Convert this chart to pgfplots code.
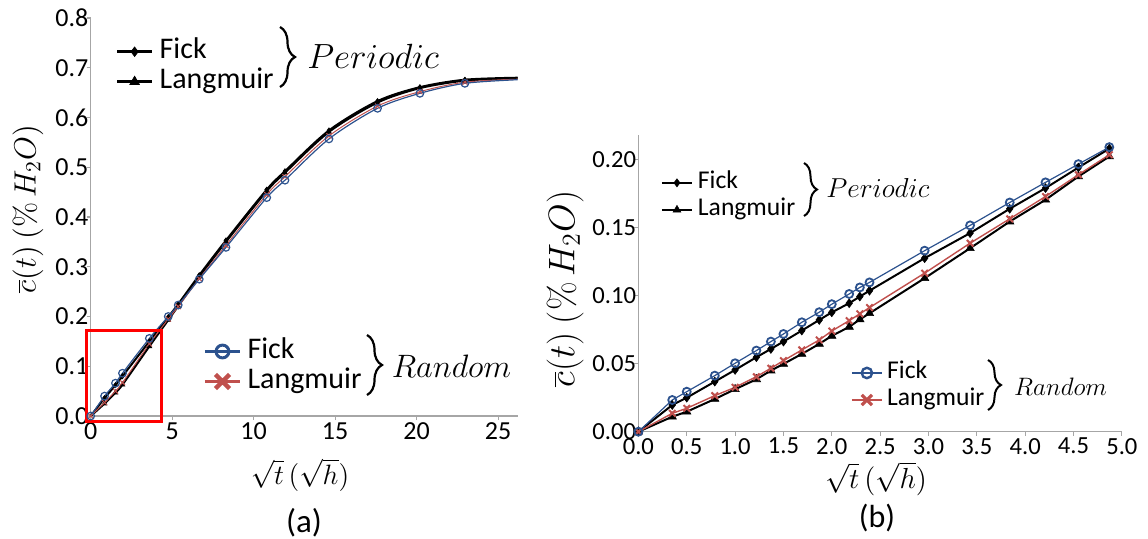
\documentclass[border=0pt]{standalone}
\usepackage{fix-cm}
\usepackage[no-math]{fontspec}
\setmainfont{Carlito}
\usepackage{pgfplots}
\usepackage{pgfplotstable}
\pgfplotsset{compat=1.18}
\usetikzlibrary{decorations.pathreplacing}
\definecolor{fblue}{RGB}{44,82,142}
\definecolor{lred}{RGB}{192,80,77}

\pgfplotstableread{
x fr lr fp lp
0 0 0 0 0
0.85 0.040 0.027 0.036 0.025
1.52 0.066 0.050 0.062 0.047
1.95 0.086 0.067 0.080 0.063
3.60 0.156 0.145 0.150 0.140
4.76 0.200 0.195 0.199 0.193
5.37 0.223 0.220 0.225 0.221
6.66 0.275 0.276 0.283 0.280
8.30 0.339 0.343 0.353 0.350
10.80 0.439 0.445 0.455 0.452
11.92 0.474 0.481 0.492 0.489
14.62 0.557 0.563 0.574 0.571
17.60 0.6185 0.623 0.633 0.630
20.20 0.6486 0.652 0.661 0.659
22.96 0.6687 0.671 0.676 0.674
26.20 0.676 0.677 0.680 0.679
}\lefttab

\pgfplotstableread{
x fr fp lr lp
0 0 0 0 0
0.35 0.0233 0.0196 0.0135 0.0110
0.50 0.0294 0.0250 0.0172 0.0147
0.79 0.0412 0.0368 0.0265 0.0240
1.00 0.0503 0.0454 0.0326 0.0312
1.22 0.0596 0.0547 0.0404 0.0385
1.37 0.0662 0.0608 0.0466 0.0449
1.50 0.0718 0.0662 0.0522 0.0498
1.69 0.0804 0.0743 0.0601 0.0571
1.87 0.0878 0.0821 0.0674 0.0645
2.00 0.0937 0.0877 0.0740 0.0704
2.18 0.1012 0.0944 0.0816 0.0770
2.29 0.1060 0.0993 0.0866 0.0825
2.39 0.1097 0.1036 0.0912 0.0870
2.96 0.1330 0.1275 0.1165 0.1128
3.43 0.1516 0.1459 0.1385 0.1348
3.84 0.1684 0.1638 0.1564 0.1544
4.21 0.1832 0.1790 0.1728 0.1704
4.55 0.1966 0.1941 0.1888 0.1875
4.87 0.2091 0.2080 0.2035 0.2022
}\righttab

\pgfplotsset{
  excel/.style={
    scale only axis,
    axis x line=bottom, axis y line=left,
    axis line style={-, draw=gray!70, line width=0.6pt},
    tick style={draw=gray!70, line width=0.6pt},
    tick align=outside, major tick length=2pt,
    /pgf/number format/assume math mode=true,
    tick label style={font=\fontsize{13}{15}\selectfont},
    yticklabel style={inner sep=0pt, xshift=1pt},
    xticklabel style={inner sep=1pt},
  },
  legimg/.style={legend image code/.code={%
    \draw[mark repeat=2,mark phase=2] plot coordinates {(0pt,0pt) (#1/2,0pt) (#1,0pt)};}},
  legbase/.style={hide axis, scale only axis, xmin=0, xmax=1, ymin=0, ymax=1,
    legend cell align=left},
}

\begin{document}
\begin{tikzpicture}[x=1pt,y=1pt]
\useasboundingbox (0,0) rectangle (574,269);

% ---------------- Left panel ----------------
\begin{axis}[excel, width=213.5pt, height=199pt, at={(45.35pt,61pt)}, anchor=south west,
  xmin=0, xmax=26.2, ymin=0, ymax=0.8,
  xtick={0,5,10,15,20,25}, ytick={0,0.1,...,0.8},
  xticklabel style={/pgf/number format/fixed, /pgf/number format/precision=0},
  yticklabel style={/pgf/number format/fixed, /pgf/number format/fixed zerofill, /pgf/number format/precision=1},
  clip=false]
\addplot[black, line width=1pt, smooth, mark=diamond*, mark size=1.3pt, mark options={line width=0.3pt}, mark indices={2,3,4,5,6,7,8,9,10,11,12,13,14,15}] table[x=x,y=fp] {\lefttab};
\addplot[black, line width=1pt, smooth, mark=triangle*, mark size=1.4pt, mark options={line width=0.3pt}, mark indices={2,3,4,5,6,7,8,9,10,11,12,13,14,15}] table[x=x,y=lp] {\lefttab};
\addplot[lred, line width=0.5pt, smooth, mark=x, mark size=1.8pt, mark options={line width=0.5pt}, mark indices={1,2,3,4,5,6,7,8,9,10,11,12,13,14,15}] table[x=x,y=lr] {\lefttab};
\addplot[fblue, line width=0.6pt, smooth, mark=o, mark size=1.9pt, mark options={line width=0.6pt}, mark indices={1,2,3,4,5,6,7,8,9,10,11,12,13,14,15}] table[x=x,y=fr] {\lefttab};
\draw[red, line width=1.5pt] (axis cs:-0.28,-0.0115) rectangle (axis cs:4.34,0.171);
\end{axis}

\begin{axis}[legbase, width=213.5pt, height=199pt, at={(45.35pt,61pt)}, anchor=south west,
  legimg=17.5pt,
  legend style={draw=none, fill=none, inner sep=0pt, outer sep=0pt, at={(0.0581,0.8776)}, anchor=west,
    font=\fontsize{15}{18}\selectfont, row sep=2pt,
    nodes={inner sep=0pt, text height=10pt, text depth=3pt},
    /tikz/every odd column/.append style={column sep=3pt}}]
\addplot[draw=none, forget plot] coordinates {(0.5,0.5)};
\addlegendimage{black, line width=1.6pt, mark=diamond*, mark size=2.4pt, mark options={line width=0.3pt}}
\addlegendentry{Fick}
\addlegendimage{black, line width=1.6pt, mark=triangle*, mark size=2.8pt, mark options={line width=0.3pt}}
\addlegendentry{Langmuir}
\end{axis}

\begin{axis}[legbase, width=213.5pt, height=199pt, at={(45.35pt,61pt)}, anchor=south west,
  legimg=17.5pt,
  legend style={draw=none, fill=none, inner sep=0pt, outer sep=0pt, at={(0.2639,0.1244)}, anchor=west,
    font=\fontsize{15}{18}\selectfont, row sep=2pt,
    nodes={inner sep=0pt, text height=10pt, text depth=3pt},
    /tikz/every odd column/.append style={column sep=3pt}}]
\addplot[draw=none, forget plot] coordinates {(0.5,0.5)};
\addlegendimage{fblue, line width=1.6pt, mark=o, mark size=3.2pt, mark options={line width=1.5pt}}
\addlegendentry{Fick}
\addlegendimage{lred, line width=1.6pt, mark=x, mark size=5pt, mark options={line width=2.2pt}}
\addlegendentry{Langmuir}
\end{axis}

% ---------------- Right panel ----------------
\begin{axis}[excel, width=241.75pt, height=148.35pt, at={(319.2pt,53.15pt)}, anchor=south west,
  xmin=0, xmax=5, ymin=0, ymax=0.218,
  xtick={0,0.5,...,5}, ytick={0,0.05,0.1,0.15,0.2},
  tick label style={font=\fontsize{12.3}{14}\selectfont},
  xticklabel style={/pgf/number format/fixed, /pgf/number format/fixed zerofill, /pgf/number format/precision=1},
  yticklabel style={/pgf/number format/fixed, /pgf/number format/fixed zerofill, /pgf/number format/precision=2},
  clip=false]
\addplot[black, line width=1pt, mark=diamond*, mark size=2.2pt, mark options={line width=0.3pt}] table[x=x,y=fp] {\righttab};
\addplot[black, line width=1pt, mark=triangle*, mark size=2.4pt, mark options={line width=0.3pt}] table[x=x,y=lp] {\righttab};
\addplot[lred, line width=0.7pt, mark=x, mark size=2.3pt, mark options={line width=1pt}] table[x=x,y=lr] {\righttab};
\addplot[fblue, line width=0.6pt, mark=o, mark size=2pt, mark options={line width=0.9pt}] table[x=x,y=fr] {\righttab};
\end{axis}

\begin{axis}[legbase, width=241.75pt, height=148.35pt, at={(319.2pt,53.15pt)}, anchor=south west,
  legimg=15pt,
  legend style={draw=none, fill=none, inner sep=0pt, outer sep=0pt, at={(0.0467,0.7933)}, anchor=west,
    font=\fontsize{12.8}{15}\selectfont, row sep=2.5pt,
    nodes={inner sep=0pt, text height=8.5pt, text depth=2.5pt},
    /tikz/every odd column/.append style={column sep=2.5pt}}]
\addplot[draw=none, forget plot] coordinates {(0.5,0.5)};
\addlegendimage{black, line width=1pt, mark=diamond*, mark size=2pt, mark options={line width=0.3pt}}
\addlegendentry{Fick}
\addlegendimage{black, line width=1pt, mark=triangle*, mark size=2.2pt, mark options={line width=0.3pt}}
\addlegendentry{Langmuir}
\end{axis}

\begin{axis}[legbase, width=241.75pt, height=148.35pt, at={(319.2pt,53.15pt)}, anchor=south west,
  legimg=15pt,
  legend style={draw=none, fill=none, inner sep=0pt, outer sep=0pt, at={(0.4389,0.1524)}, anchor=west,
    font=\fontsize{12.8}{15}\selectfont, row sep=2.5pt,
    nodes={inner sep=0pt, text height=8.5pt, text depth=2.5pt},
    /tikz/every odd column/.append style={column sep=2pt}}]
\addplot[draw=none, forget plot] coordinates {(0.5,0.5)};
\addlegendimage{fblue, line width=1.3pt, mark=o, mark size=2.6pt, mark options={line width=1.2pt}}
\addlegendentry{Fick}
\addlegendimage{lred, line width=1.3pt, mark=x, mark size=3.6pt, mark options={line width=1.6pt}}
\addlegendentry{Langmuir}
\end{axis}

% ---------------- Braces and group names ----------------
\draw[decorate, decoration={brace, amplitude=7.5pt}, line width=1.1pt] (140,255.5) -- (140,225.5);
\node[anchor=base west, inner sep=0pt] at (153.5,235) {\fontsize{17.5}{20}\selectfont $Periodic$};
\draw[decorate, decoration={brace, amplitude=7.5pt}, line width=1.1pt] (183.5,101.5) -- (183.5,71.5);
\node[anchor=base west, inner sep=0pt] at (195.7,80.5) {\fontsize{16.2}{19}\selectfont $Random$};
\draw[decorate, decoration={brace, amplitude=6.5pt}, line width=1pt] (402,187.5) -- (402,161);
\node[anchor=base west, inner sep=0pt] at (413,170.5) {\fontsize{13.7}{16}\selectfont $Periodic$};
\draw[decorate, decoration={brace, amplitude=6.5pt}, line width=1pt] (494,89) -- (494,64);
\node[anchor=base west, inner sep=0pt] at (506.9,71.5) {\fontsize{12.6}{15}\selectfont $Random$};

% ---------------- Axis labels and panel labels ----------------
\node[rotate=90, inner sep=0pt] at (14,164.5) {\fontsize{15.4}{18}\selectfont $\overline{c}(t)\ (\%\,H_2O)$};
\node[rotate=90, inner sep=0pt] at (282.5,124.5) {\fontsize{18.5}{21}\selectfont $\overline{c}(t)\ (\%\,H_2O)$};
\node[inner sep=0pt] at (150,31.5) {\fontsize{14}{17}\selectfont $\sqrt{t}\,(\sqrt{h})$};
\node[inner sep=0pt] at (438,29.5) {\fontsize{14.5}{17}\selectfont $\sqrt{t}\,(\sqrt{h})$};
\node[inner sep=0pt] at (152,7.5) {\fontsize{16.5}{19}\selectfont (a)};
\node[inner sep=0pt] at (438.5,10) {\fontsize{16}{19}\selectfont (b)};
\end{tikzpicture}
\end{document}
